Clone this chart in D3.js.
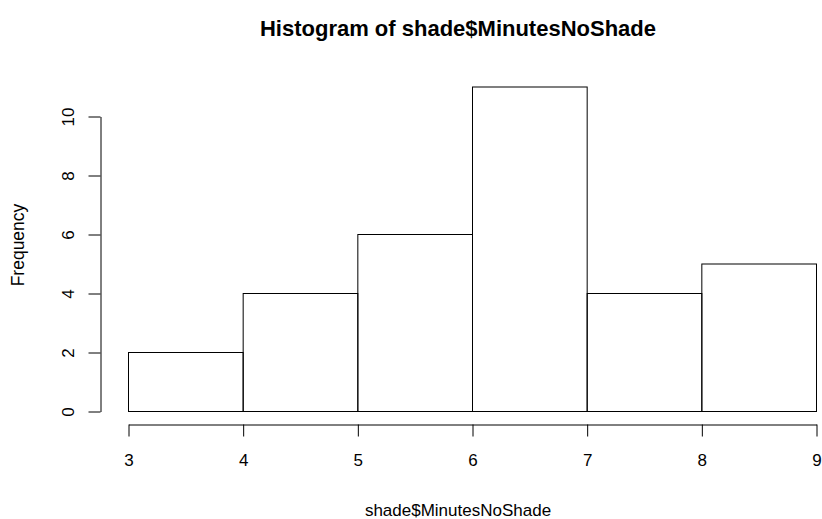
<!DOCTYPE html>
<html>
<head>
<meta charset="utf-8">
<script src="https://cdn.jsdelivr.net/npm/d3@7"></script>
<style>
  body { margin: 0; background: #fff; }
  text { font-family: "Liberation Sans", Arial, sans-serif; fill: #000; }
</style>
</head>
<body>
<div id="chart"></div>
<script>
// histogram bins and counts
const binStarts = [3, 4, 5, 6, 7, 8];
const binEnds = [4, 5, 6, 7, 8, 9];
const counts = [2, 4, 6, 11, 4, 5];
const xTicks = [3, 4, 5, 6, 7, 8, 9];
const yTicks = [0, 2, 4, 6, 8, 10];

const width = 822, height = 519;

const svg = d3.select('#chart')
    .append('svg')
    .attr('width', width)
    .attr('height', height);

const xScale = d3.scaleLinear()
    .domain([3, 9])
    .range([128, 816]);

const yScale = d3.scaleLinear()
    .domain([0, 10])
    .range([411.5, 116.5]);

// bars
svg.selectAll('.bars')
    .data(counts)
    .enter()
    .append('rect')
    .attr('class', 'bars')
    .attr('x', (d, i) => xScale(binStarts[i]) + 0.5)
    .attr('y', d => yScale(d))
    .attr('width', (d, i) => xScale(binEnds[i]) - xScale(binStarts[i]))
    .attr('height', d => yScale(0) - yScale(d))
    .attr('fill', 'none')
    .attr('stroke', '#000')
    .attr('stroke-width', 1);

// x axis
const xAxis = d3.axisBottom(xScale)
    .tickValues(xTicks)
    .tickFormat(d3.format('d'))
    .tickSize(12)
    .tickSizeOuter(0)
    .tickPadding(17);

const gx = svg.append('g')
    .attr('class', 'x-axis')
    .attr('transform', 'translate(0.5,424.5)')
    .call(xAxis);
gx.select('.domain').attr('stroke', '#000');
gx.selectAll('text').style('font-size', '17px');

// y axis, labels rotated like R
const yAxis = d3.axisLeft(yScale)
    .tickValues(yTicks)
    .tickFormat(d3.format('d'))
    .tickSize(12)
    .tickSizeOuter(0);

const gy = svg.append('g')
    .attr('class', 'y-axis')
    .attr('transform', 'translate(100.5,0)')
    .call(yAxis);
gy.select('.domain').attr('stroke', '#000');
gy.selectAll('text')
    .attr('x', null)
    .attr('dy', null)
    .attr('text-anchor', 'middle')
    .attr('transform', 'translate(-32,0) rotate(-90)')
    .attr('dy', '0.35em')
    .style('font-size', '17px');

// titles
svg.append('text')
    .attr('x', 458)
    .attr('y', 36)
    .attr('text-anchor', 'middle')
    .style('font-size', '22px')
    .style('font-weight', 'bold')
    .text('Histogram of shade$MinutesNoShade');

svg.append('text')
    .attr('x', 458)
    .attr('y', 516)
    .attr('text-anchor', 'middle')
    .style('font-size', '17px')
    .text('shade$MinutesNoShade');

svg.append('text')
    .attr('transform', 'translate(24,245) rotate(-90)')
    .attr('text-anchor', 'middle')
    .style('font-size', '17.5px')
    .text('Frequency');
</script>
</body>
</html>
